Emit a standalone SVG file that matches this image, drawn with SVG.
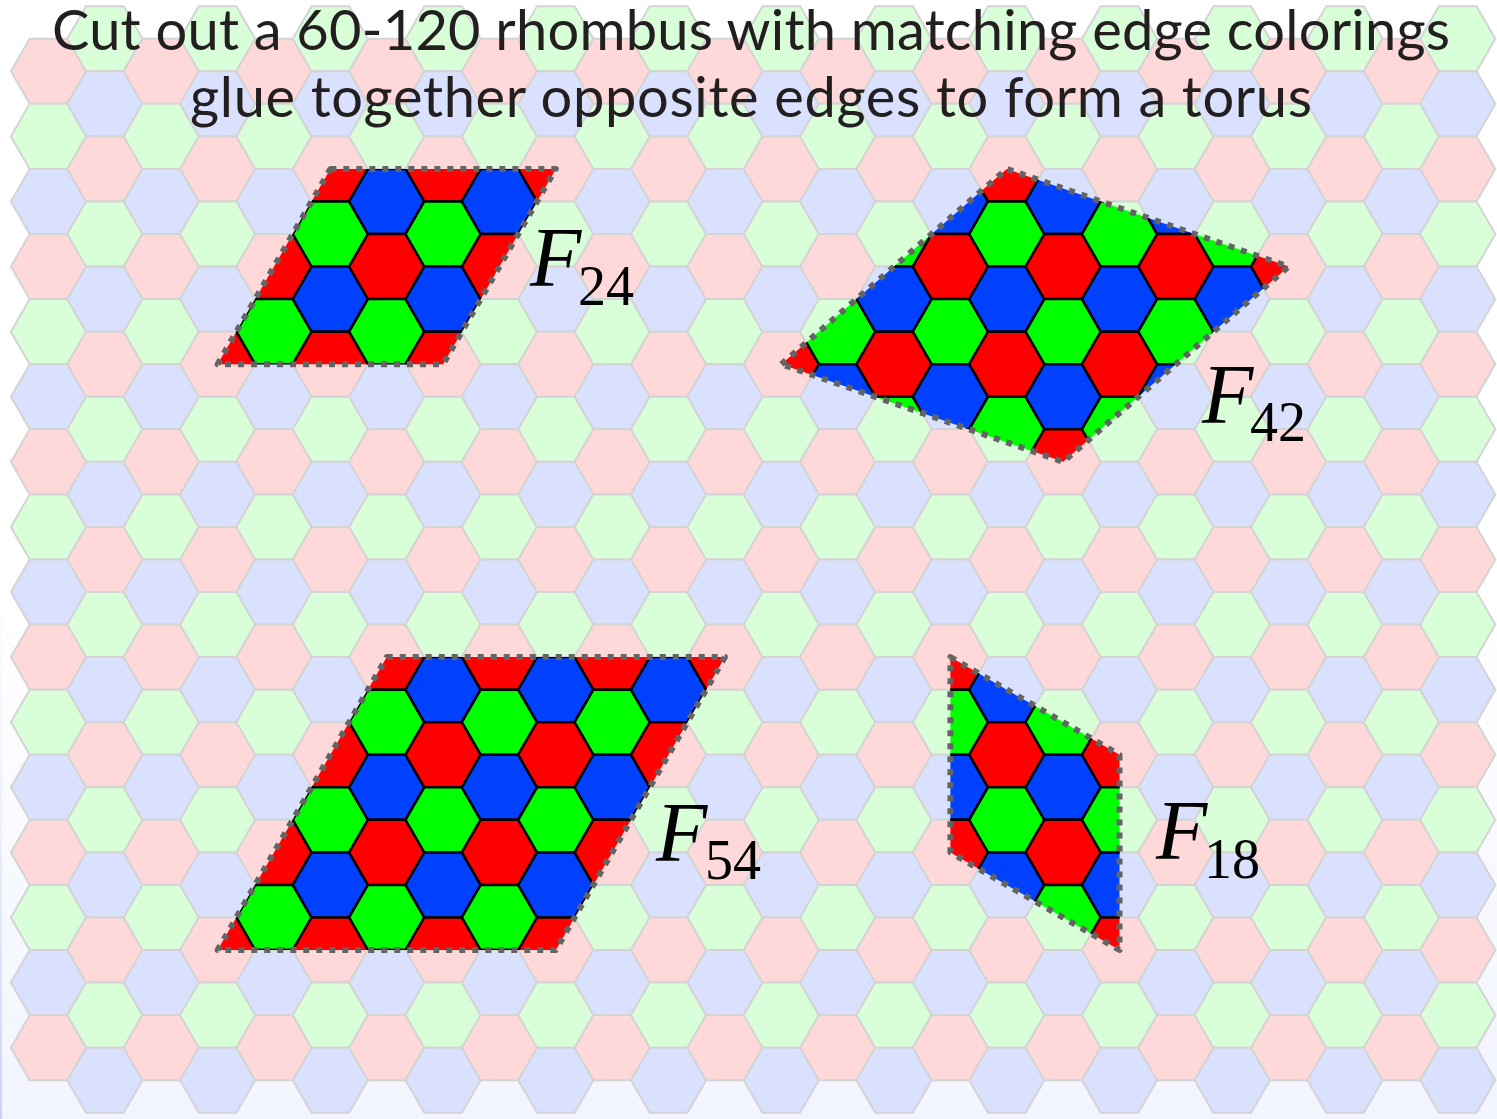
<svg xmlns="http://www.w3.org/2000/svg" width="1497" height="1119" viewBox="0 0 1497 1119">
<defs>
<style>
.p{fill:#ffd9d9}.g{fill:#d9ffd9}.b{fill:#d9e1ff}
.R{fill:#ff0000}.G{fill:#00ff00}.B{fill:#0040ff}
.bg{stroke:#d4d4d4;stroke-width:2}
.sat{stroke:#000;stroke-width:2.5}
.cut{fill:none;stroke:#646464;stroke-width:6;stroke-dasharray:6 7;stroke-linejoin:round}
.title{font-family:Lato,"Liberation Sans",sans-serif;font-size:56px;fill:#231f20;text-anchor:start}
.F{font-family:"Liberation Serif",serif;font-style:italic;font-size:84px;fill:#000}
.sub{font-family:"Liberation Serif",serif;font-size:56px;fill:#000}
</style>
<linearGradient id="bgGrad" x1="0" y1="0" x2="0" y2="1">
<stop offset="0" stop-color="#ffffff"/>
<stop offset="0.55" stop-color="#ffffff"/>
<stop offset="1" stop-color="#f2f4ff"/>
</linearGradient>
<linearGradient id="edgeGrad" x1="0" y1="0" x2="0" y2="1">
<stop offset="0.4" stop-color="#ffffff" stop-opacity="0"/>
<stop offset="1" stop-color="#c9d2ff"/>
</linearGradient>
<path id="h" d="M-37.58 0L-18.79-32.545H18.79L37.58 0L18.79 32.545H-18.79Z"/>
<g id="ce">
<use href="#h" y="71.3" class="p"/><use href="#h" y="136.39" class="g"/><use href="#h" y="201.48" class="b"/>
<use href="#h" y="266.57" class="p"/><use href="#h" y="331.66" class="g"/><use href="#h" y="396.75" class="b"/>
<use href="#h" y="461.84" class="p"/><use href="#h" y="526.93" class="g"/><use href="#h" y="592.02" class="b"/>
<use href="#h" y="657.11" class="p"/><use href="#h" y="722.2" class="g"/><use href="#h" y="787.29" class="b"/>
<use href="#h" y="852.38" class="p"/><use href="#h" y="917.47" class="g"/><use href="#h" y="982.56" class="b"/>
<use href="#h" y="1047.65" class="p"/>
</g>
<g id="co">
<use href="#h" y="38.755" class="g"/><use href="#h" y="103.845" class="b"/><use href="#h" y="168.935" class="p"/>
<use href="#h" y="234.025" class="g"/><use href="#h" y="299.115" class="b"/><use href="#h" y="364.205" class="p"/>
<use href="#h" y="429.295" class="g"/><use href="#h" y="494.385" class="b"/><use href="#h" y="559.475" class="p"/>
<use href="#h" y="624.565" class="g"/><use href="#h" y="689.655" class="b"/><use href="#h" y="754.745" class="p"/>
<use href="#h" y="819.835" class="g"/><use href="#h" y="884.925" class="b"/><use href="#h" y="950.015" class="p"/>
<use href="#h" y="1015.105" class="g"/><use href="#h" y="1080.195" class="b"/>
</g>
<g id="se">
<use href="#h" y="71.3" class="R"/><use href="#h" y="136.39" class="G"/><use href="#h" y="201.48" class="B"/>
<use href="#h" y="266.57" class="R"/><use href="#h" y="331.66" class="G"/><use href="#h" y="396.75" class="B"/>
<use href="#h" y="461.84" class="R"/><use href="#h" y="526.93" class="G"/><use href="#h" y="592.02" class="B"/>
<use href="#h" y="657.11" class="R"/><use href="#h" y="722.2" class="G"/><use href="#h" y="787.29" class="B"/>
<use href="#h" y="852.38" class="R"/><use href="#h" y="917.47" class="G"/><use href="#h" y="982.56" class="B"/>
<use href="#h" y="1047.65" class="R"/>
</g>
<g id="so">
<use href="#h" y="38.755" class="G"/><use href="#h" y="103.845" class="B"/><use href="#h" y="168.935" class="R"/>
<use href="#h" y="234.025" class="G"/><use href="#h" y="299.115" class="B"/><use href="#h" y="364.205" class="R"/>
<use href="#h" y="429.295" class="G"/><use href="#h" y="494.385" class="B"/><use href="#h" y="559.475" class="R"/>
<use href="#h" y="624.565" class="G"/><use href="#h" y="689.655" class="B"/><use href="#h" y="754.745" class="R"/>
<use href="#h" y="819.835" class="G"/><use href="#h" y="884.925" class="B"/><use href="#h" y="950.015" class="R"/>
<use href="#h" y="1015.105" class="G"/><use href="#h" y="1080.195" class="B"/>
</g>
<clipPath id="c24"><polygon points="330.35,168.94 555.83,168.94 443.09,364.2 217.61,364.2"/></clipPath>
<clipPath id="c42"><polygon points="781.31,364.2 1006.79,168.94 1288.64,266.57 1063.16,461.84"/></clipPath>
<clipPath id="c54"><polygon points="386.72,657.11 724.94,657.11 555.83,950.02 217.61,950.02"/></clipPath>
<clipPath id="c18"><polygon points="950.42,657.11 1119.53,754.75 1119.53,950.02 950.42,852.38"/></clipPath>
</defs>

<rect width="1497" height="1119" fill="url(#bgGrad)"/>
<rect width="2" height="1119" fill="url(#edgeGrad)"/>

<g id="background-grid" class="bg">
<use href="#ce" x="48.5"/><use href="#co" x="104.87"/><use href="#ce" x="161.24"/><use href="#co" x="217.61"/>
<use href="#ce" x="273.98"/><use href="#co" x="330.35"/><use href="#ce" x="386.72"/><use href="#co" x="443.09"/>
<use href="#ce" x="499.46"/><use href="#co" x="555.83"/><use href="#ce" x="612.2"/><use href="#co" x="668.57"/>
<use href="#ce" x="724.94"/><use href="#co" x="781.31"/><use href="#ce" x="837.68"/><use href="#co" x="894.05"/>
<use href="#ce" x="950.42"/><use href="#co" x="1006.79"/><use href="#ce" x="1063.16"/><use href="#co" x="1119.53"/>
<use href="#ce" x="1175.9"/><use href="#co" x="1232.27"/><use href="#ce" x="1288.64"/><use href="#co" x="1345.01"/>
<use href="#ce" x="1401.38"/><use href="#co" x="1457.75"/>
</g>

<g id="title">
<text class="title" x="52" y="50" textLength="1398">Cut out a 60-120 rhombus with matching edge colorings</text>
<text class="title" x="190" y="117" textLength="1122">glue together opposite edges to form a torus</text>
</g>

<g id="F24">
<g clip-path="url(#c24)" class="sat">
<use href="#so" x="217.61"/><use href="#se" x="273.98"/><use href="#so" x="330.35"/><use href="#se" x="386.72"/>
<use href="#so" x="443.09"/><use href="#se" x="499.46"/><use href="#so" x="555.83"/>
</g>
<polygon class="cut" points="330.35,168.94 555.83,168.94 443.09,364.2 217.61,364.2"/>
<text class="F" x="530" y="286">F</text><text class="sub" x="578" y="305">24</text>
</g>

<g id="F42">
<g clip-path="url(#c42)" class="sat">
<use href="#so" x="781.31"/><use href="#se" x="837.68"/><use href="#so" x="894.05"/><use href="#se" x="950.42"/>
<use href="#so" x="1006.79"/><use href="#se" x="1063.16"/><use href="#so" x="1119.53"/><use href="#se" x="1175.9"/>
<use href="#so" x="1232.27"/><use href="#se" x="1288.64"/>
</g>
<polygon class="cut" points="781.31,364.2 1006.79,168.94 1288.64,266.57 1063.16,461.84"/>
<text class="F" x="1202" y="423">F</text><text class="sub" x="1250" y="441">42</text>
</g>

<g id="F54">
<g clip-path="url(#c54)" class="sat">
<use href="#so" x="217.61"/><use href="#se" x="273.98"/><use href="#so" x="330.35"/><use href="#se" x="386.72"/>
<use href="#so" x="443.09"/><use href="#se" x="499.46"/><use href="#so" x="555.83"/><use href="#se" x="612.2"/>
<use href="#so" x="668.57"/><use href="#se" x="724.94"/>
</g>
<polygon class="cut" points="386.72,657.11 724.94,657.11 555.83,950.02 217.61,950.02"/>
<text class="F" x="656" y="861">F</text><text class="sub" x="705" y="879">54</text>
</g>

<g id="F18">
<g clip-path="url(#c18)" class="sat">
<use href="#se" x="950.42"/><use href="#so" x="1006.79"/><use href="#se" x="1063.16"/><use href="#so" x="1119.53"/>
</g>
<polygon class="cut" points="950.42,657.11 1119.53,754.75 1119.53,950.02 950.42,852.38"/>
<text class="F" x="1156" y="859">F</text><text class="sub" x="1204" y="878">18</text>
</g>
</svg>
